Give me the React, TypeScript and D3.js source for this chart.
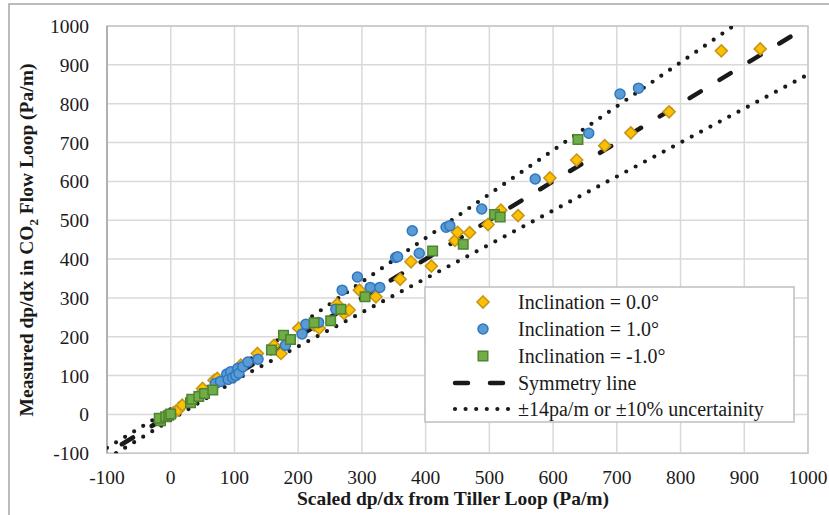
import React from 'react';
import * as d3 from 'd3';

const tickValues = [-100, 0, 100, 200, 300, 400, 500, 600, 700, 800, 900, 1000];

const incl0: [number, number][] = [
  [4, 4], [8, 8], [12, 12], [18, 24], [50, 67], [68, 88], [73, 93], [110, 127], [136, 157],
  [162, 178], [173, 157], [201, 222], [225, 230], [233, 222], [261, 284], [272, 260],
  [280, 269], [296, 320], [322, 303], [360, 348], [377, 393], [409, 382], [446, 448],
  [450, 469], [469, 468], [498, 489], [518, 526], [545, 512], [595, 609], [637, 655],
  [681, 692], [722, 725], [782, 779], [864, 936], [925, 941],
];

const incl1: [number, number][] = [
  [70, 80], [78, 85], [88, 104], [90, 90], [94, 110], [97, 95], [102, 100], [105, 118],
  [107, 106], [113, 123], [121, 135], [137, 142], [180, 178], [206, 207], [212, 232],
  [232, 237], [259, 271], [269, 320], [293, 354], [313, 327], [328, 327], [353, 404],
  [356, 406], [379, 473], [390, 415], [432, 482], [438, 486], [488, 529], [572, 606],
  [656, 724], [705, 825], [734, 840],
];

const inclNeg1: [number, number][] = [
  [-16, -16], [-18, -10], [-8, -6], [-3, -2], [0, 1], [31, 30], [33, 39], [44, 46],
  [53, 54], [66, 63], [158, 166], [177, 204], [188, 193], [225, 236], [251, 241],
  [267, 271], [305, 303], [411, 421], [459, 438], [508, 515], [517, 508], [639, 708],
];

const symmetryLine: [number, number][] = [[-100, -100], [980, 980]];
const upperBand: [number, number][] = [[-100, -86], [92, 106], [883, 1000]];
const lowerBand: [number, number][] = [[-100, -114], [112, 98], [1000, 875]];

const legendLabels = [
  'Inclination = 0.0°',
  'Inclination = 1.0°',
  'Inclination = -1.0°',
  'Symmetry line',
  '±14pa/m or ±10% uncertainity',
];

const ORANGE_FILL = '#FFC000';
const ORANGE_STROKE = '#C4961C';
const BLUE_FILL = '#5B9BD5';
const BLUE_STROKE = '#2E78BE';
const GREEN_FILL = '#70AD47';
const GREEN_STROKE = '#4F8430';

const FONT = '"Liberation Serif", "Times New Roman", serif';

const diamond = (r: number) => `M0,${-r}L${r},0L0,${r}L${-r},0Z`;
const squarePath = (s: number) => `M${-s / 2},${-s / 2}h${s}v${s}h${-s}Z`;

export default function App() {
  const W = 829;
  const H = 515;
  const x = d3.scaleLinear().domain([-100, 1000]).range([107, 808]);
  const y = d3.scaleLinear().domain([-100, 1000]).range([453.3, 26]);
  const line = d3
    .line<[number, number]>()
    .x((d) => x(d[0]))
    .y((d) => y(d[1]));

  const lx = 425;
  const ly = 287;
  const lw = 369;
  const lh = 135;
  const rowY = [302, 329, 356, 383, 409];
  const symX = 483;
  const textX = 518;

  return (
    <svg
      width={W}
      height={H}
      style={{ position: 'absolute', left: 0, top: 0, background: '#fff' }}
      fontFamily={FONT}
    >
      <defs>
        <clipPath id="plotClip">
          <rect x={x(-100)} y={y(1000)} width={x(1000) - x(-100)} height={y(-100) - y(1000)} />
        </clipPath>
      </defs>
      <rect x={0} y={0} width={W} height={H} fill="#fff" />
      <rect x={9} y={4} width={W + 10} height={H + 10} fill="none" stroke="#A6A6A6" strokeWidth={1.5} />

      {/* grid */}
      {tickValues.map((t) => (
        <line key={'gx' + t} x1={x(t)} x2={x(t)} y1={y(-100)} y2={y(1000)} stroke="#D9D9D9" strokeWidth={1.5} />
      ))}
      {tickValues.map((t) => (
        <line key={'gy' + t} x1={x(-100)} x2={x(1000)} y1={y(t)} y2={y(t)} stroke="#D9D9D9" strokeWidth={1.5} />
      ))}
      <rect
        x={x(-100)}
        y={y(1000)}
        width={x(1000) - x(-100)}
        height={y(-100) - y(1000)}
        fill="none"
        stroke="#C8C8C8"
        strokeWidth={1.5}
      />
      <line x1={x(-100)} x2={x(-100)} y1={y(-100)} y2={y(1000)} stroke="#A6A6A6" strokeWidth={1.5} />

      {/* lines */}
      <g clipPath="url(#plotClip)">
        <path d={line(upperBand) || ''} fill="none" stroke="#1A1A1A" strokeWidth={4.2} strokeDasharray="0 10.6" strokeLinecap="round" />
        <path d={line(lowerBand) || ''} fill="none" stroke="#1A1A1A" strokeWidth={4.2} strokeDasharray="0 10.6" strokeLinecap="round" />
        <path d={line(symmetryLine) || ''} fill="none" stroke="#1A1A1A" strokeWidth={4.5} strokeDasharray="13 22" strokeDashoffset={17.6} strokeLinecap="round" />
      </g>

      {/* markers */}
      {incl0.map((d, i) => (
        <path key={'o' + i} d={diamond(6)} transform={`translate(${x(d[0])},${y(d[1])})`} fill={ORANGE_FILL} stroke={ORANGE_STROKE} strokeWidth={1.6} />
      ))}
      {incl1.map((d, i) => (
        <circle key={'b' + i} cx={x(d[0])} cy={y(d[1])} r={5} fill={BLUE_FILL} stroke={BLUE_STROKE} strokeWidth={1.5} />
      ))}
      {inclNeg1.map((d, i) => (
        <path key={'g' + i} d={squarePath(9.5)} transform={`translate(${x(d[0])},${y(d[1])})`} fill={GREEN_FILL} stroke={GREEN_STROKE} strokeWidth={1.5} />
      ))}

      {/* tick labels */}
      {tickValues.map((t) => (
        <text key={'tx' + t} x={x(t)} y={484} textAnchor="middle" fontSize={19.5} fill="#1a1a1a">
          {t}
        </text>
      ))}
      {tickValues.map((t) => (
        <text key={'ty' + t} x={89} y={y(t) + 7} textAnchor="end" fontSize={19.5} fill="#1a1a1a">
          {t}
        </text>
      ))}

      {/* axis titles */}
      <text x={453} y={505} textAnchor="middle" fontSize={19.5} fontWeight="bold" fill="#1a1a1a">
        Scaled dp/dx from Tiller Loop (Pa/m)
      </text>
      <text transform="translate(33,240) rotate(-90)" textAnchor="middle" fontSize={19.5} fontWeight="bold" fill="#1a1a1a">
        <tspan>Measured dp/dx in CO</tspan>
        <tspan dy={5} fontSize={13}>2</tspan>
        <tspan dy={-5}> Flow Loop (Pa/m)</tspan>
      </text>

      {/* legend */}
      <rect x={lx} y={ly} width={lw} height={lh} fill="#fff" stroke="#BFBFBF" strokeWidth={1.5} />
      <path d={diamond(6)} transform={`translate(${symX},${rowY[0]})`} fill={ORANGE_FILL} stroke={ORANGE_STROKE} strokeWidth={1.6} />
      <circle cx={symX} cy={rowY[1]} r={5} fill={BLUE_FILL} stroke={BLUE_STROKE} strokeWidth={1.5} />
      <path d={squarePath(9.5)} transform={`translate(${symX},${rowY[2]})`} fill={GREEN_FILL} stroke={GREEN_STROKE} strokeWidth={1.5} />
      <line x1={455} x2={508} y1={rowY[3]} y2={rowY[3]} stroke="#1A1A1A" strokeWidth={4.5} strokeDasharray="13 22" strokeLinecap="round" />
      <line x1={455} x2={510} y1={rowY[4]} y2={rowY[4]} stroke="#1A1A1A" strokeWidth={4.2} strokeDasharray="0 10.6" strokeLinecap="round" />
      {legendLabels.map((l, i) => (
        <text key={'lg' + i} x={textX} y={rowY[i] + 7} fontSize={20} fill="#1a1a1a">
          {l}
        </text>
      ))}
    </svg>
  );
}
